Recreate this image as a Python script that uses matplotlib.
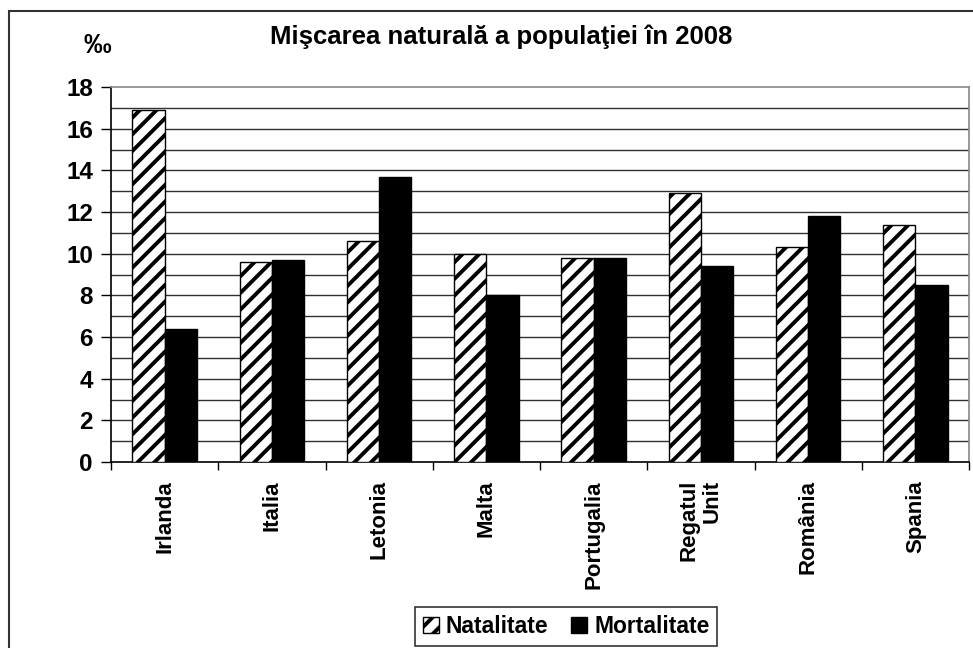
import matplotlib.pyplot as plt
import numpy as np
from matplotlib.patches import Patch, Rectangle

COUNTRIES = ["Irlanda", "Italia", "Letonia", "Malta", "Portugalia",
             "Regatul\nUnit", "România", "Spania"]
NATALITATE = [16.9, 9.6, 10.6, 10.0, 9.8, 12.9, 10.3, 11.4]
MORTALITATE = [6.4, 9.7, 13.7, 8.0, 9.8, 9.4, 11.8, 8.5]
Y_TICKS = [0, 2, 4, 6, 8, 10, 12, 14, 16, 18]

plt.rcParams["font.family"] = ["Liberation Sans", "DejaVu Sans"]
plt.rcParams["font.weight"] = "bold"
plt.rcParams["hatch.linewidth"] = 2.8


def main() -> None:
    fig = plt.figure(figsize=(9.73, 6.48), dpi=100, facecolor="white")
    ax = fig.add_axes((111 / 973, 1 - 462 / 648, 858 / 973, 375 / 648))

    # outer chart frame (runs past right and bottom edges)
    fig.patches.append(Rectangle((9 / 973, -0.05), 1.2, 1 - 11 / 648 + 0.05,
                                 transform=fig.transFigure, fill=False,
                                 edgecolor="#333333", linewidth=1.5, zorder=0))

    x = np.arange(len(COUNTRIES))
    w = 0.3
    ax.bar(x - w / 2, NATALITATE, w, color="white", edgecolor="black",
           hatch="//", linewidth=1.0, zorder=3)
    ax.bar(x + w / 2, MORTALITATE, w, color="black", edgecolor="black",
           linewidth=1.0, zorder=3)

    ax.set_xlim(-0.5, len(COUNTRIES) - 0.5)
    ax.set_ylim(0, 18)
    for v in range(1, 18):
        ax.axhline(v, color="#303030", linewidth=1.0, zorder=1)

    ax.set_yticks(Y_TICKS)
    ax.set_yticklabels([str(t) for t in Y_TICKS], fontsize=17.5, fontweight="bold")
    ax.tick_params(axis="y", length=7, width=1, pad=6, color="black")

    ax.set_xticks(np.arange(-0.5, len(COUNTRIES), 1.0))
    ax.set_xticklabels([""] * (len(COUNTRIES) + 1))
    ax.tick_params(axis="x", which="major", length=6, width=1, color="black")
    ax.set_xticks(x, minor=True)
    ax.set_xticklabels(COUNTRIES, minor=True, rotation=90, fontsize=16,
                       fontweight="bold", va="top", ha="center",
                       multialignment="right", linespacing=1.15)
    ax.tick_params(axis="x", which="minor", length=0, pad=13)

    ax.spines["left"].set_color("black")
    ax.spines["bottom"].set_color("black")
    ax.spines["top"].set_color("#888888")
    ax.spines["right"].set_color("#888888")
    for s in ax.spines.values():
        s.set_linewidth(1.2)

    fig.text(501 / 973, 1 - 37 / 648, "Mişcarea naturală a populaţiei în 2008",
             ha="center", va="center", fontsize=18.5, fontweight="bold")
    fig.text(97 / 973, 1 - 46 / 648, "‰", ha="center", va="center",
             fontsize=20, fontweight="bold")

    handles = [
        Patch(facecolor="white", edgecolor="black", hatch="//", label="Natalitate"),
        Patch(facecolor="black", edgecolor="black", label="Mortalitate"),
    ]
    leg = fig.legend(handles=handles, loc="lower center",
                     bbox_to_anchor=(566 / 973, -0.015), ncol=2,
                     fancybox=False, frameon=True, edgecolor="black",
                     handlelength=0.7, handleheight=0.7, handletextpad=0.3,
                     columnspacing=1.0, borderpad=0.35,
                     prop={"size": 16.5, "weight": "bold"})
    leg.get_frame().set_linewidth(1.2)

    fig.savefig("out.png", dpi=100, facecolor="white")
    plt.close(fig)


if __name__ == "__main__":
    main()
